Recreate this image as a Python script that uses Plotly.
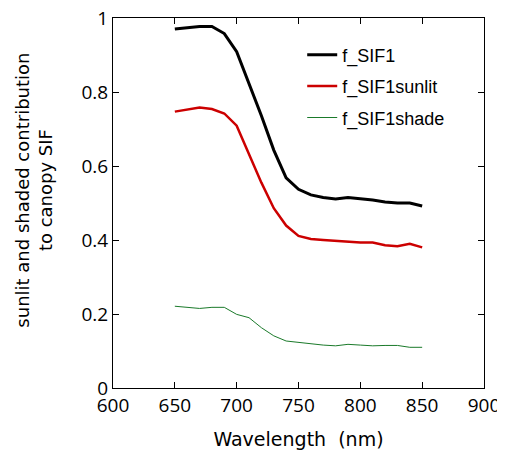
import plotly.graph_objects as go

wavelength = [650, 660, 670, 680, 690, 700, 710, 720, 730, 740, 750,
              760, 770, 780, 790, 800, 810, 820, 830, 840, 850]
f_sif1 = [0.970, 0.973, 0.977, 0.977, 0.958, 0.909, 0.825, 0.736, 0.643, 0.568, 0.537,
          0.522, 0.515, 0.511, 0.515, 0.512, 0.508, 0.503, 0.500, 0.500, 0.492]
f_sif1_sunlit = [0.747, 0.752, 0.758, 0.754, 0.742, 0.709, 0.634, 0.555, 0.486, 0.439, 0.411,
                 0.403, 0.400, 0.397, 0.395, 0.393, 0.393, 0.386, 0.383, 0.390, 0.380]
f_sif1_shade = [0.221, 0.218, 0.215, 0.218, 0.218, 0.199, 0.190, 0.163, 0.141, 0.127, 0.123,
                0.121, 0.116, 0.114, 0.118, 0.116, 0.114, 0.115, 0.115, 0.110, 0.110]

x_ticks = [600, 650, 700, 750, 800, 850, 900]
y_ticks = [0, 0.2, 0.4, 0.6, 0.8, 1]
y_ticktext = ["0", "0.2", "0.4", "0.6", "0.8", "1"]

TICK_FONT = "Open Sans, DejaVu Sans, sans-serif"
TITLE_FONT = "DejaVu Sans, sans-serif"
LEG_FONT = "Liberation Sans, Arial, Helvetica, sans-serif"

fig = go.Figure()
fig.add_trace(go.Scatter(x=wavelength, y=f_sif1, mode="lines", name="f_SIF1",
                         legendgroup="a", line=dict(color="black", width=3)))
fig.add_trace(go.Scatter(x=wavelength, y=f_sif1_sunlit, mode="lines", name="f_SIF1sunlit",
                         legendgroup="b", line=dict(color="#cc0000", width=2.5)))
fig.add_trace(go.Scatter(x=wavelength, y=f_sif1_shade, mode="lines", name="f_SIF1shade",
                         legendgroup="c", line=dict(color="#1a7a2a", width=1)))

axis_common = dict(showline=True, linecolor="black", linewidth=1, mirror="ticks",
                   ticks="inside", ticklen=6, tickcolor="black", showgrid=False,
                   zeroline=False, automargin=False, ticklabeloverflow="allow",
                   tickfont=dict(size=19, color="black", family=TICK_FONT))

fig.update_xaxes(range=[600, 900], tickvals=x_ticks,
                 title=dict(text="Wavelength\u00a0\u00a0(nm)",
                            font=dict(size=19, color="black", family=TITLE_FONT),
                            standoff=15),
                 **axis_common)
fig.update_yaxes(range=[0, 1], tickvals=y_ticks, ticktext=y_ticktext, **axis_common)

# Y-axis title (placed as an annotation to match its off-centre position)
fig.add_annotation(text="sunlit and shaded contribution<br>to canopy SIF",
                   xref="paper", yref="paper", x=-0.214, y=0.535,
                   xanchor="center", yanchor="middle", textangle=-90,
                   showarrow=False,
                   font=dict(size=18, color="black", family=TITLE_FONT))

# The page body has an 8px margin, so the figure is sized/offset to compensate.
fig.update_layout(
    width=497, height=447,
    margin=dict(l=105, r=21, t=10, b=67),
    paper_bgcolor="white", plot_bgcolor="white",
    font=dict(family=TICK_FONT, color="black"),
    legend=dict(x=0.51, y=0.95, xanchor="left", yanchor="top", bgcolor="rgba(0,0,0,0)",
                font=dict(size=18, family=LEG_FONT), tracegroupgap=5,
                traceorder="grouped"),
    showlegend=True,
)

fig.write_html("out.html")
